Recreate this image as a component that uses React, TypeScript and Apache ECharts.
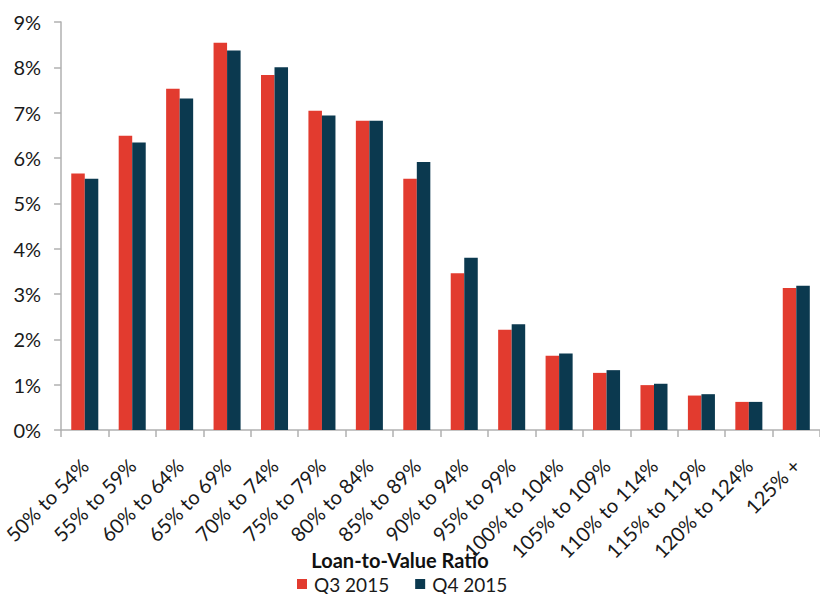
import React, { useEffect, useRef } from "react";
import * as echarts from "echarts";

const categories = [
  "50% to 54%", "55% to 59%", "60% to 64%", "65% to 69%", "70% to 74%",
  "75% to 79%", "80% to 84%", "85% to 89%", "90% to 94%", "95% to 99%",
  "100% to 104%", "105% to 109%", "110% to 114%", "115% to 119%",
  "120% to 124%", "125% +",
];
const q3_2015 = [5.66, 6.49, 7.53, 8.54, 7.83, 7.04, 6.82, 5.54, 3.46, 2.21, 1.64, 1.26, 0.99, 0.76, 0.62, 3.13];
const q4_2015 = [5.54, 6.34, 7.31, 8.37, 8.0, 6.94, 6.82, 5.91, 3.8, 2.33, 1.69, 1.32, 1.02, 0.79, 0.62, 3.18];
const yTicks = [0, 1, 2, 3, 4, 5, 6, 7, 8, 9];

const RED = "#E23B2F";
const TEAL = "#0B394F";
const FONT = "Lato, 'Open Sans', sans-serif";

export default function App() {
  const ref = useRef<HTMLDivElement>(null);
  useEffect(() => {
    if (!ref.current) return;
    const chart = echarts.init(ref.current, undefined, { renderer: "svg" });
    chart.setOption({
      animation: false,
      backgroundColor: "#ffffff",
      textStyle: { fontFamily: FONT },
      grid: { left: 60, top: 22, bottom: 164, width: 765 },
      legend: {
        left: 297,
        top: 574,
        padding: [0, 0],
        itemWidth: 10,
        itemHeight: 10,
        itemGap: 26,
        icon: "rect",
        textStyle: { fontSize: 19, lineHeight: 20, color: "#1a1a1a", fontFamily: FONT, padding: [0, 0, 0, 2] },
        data: ["Q3 2015", "Q4 2015"],
      },
      graphic: [
        {
          type: "text",
          x: 400,
          y: 560,
          style: {
            text: "Loan-to-Value Ratio",
            fontSize: 20,
            lineHeight: 20,
            fontWeight: "bold",
            fontFamily: FONT,
            fill: "#111",
            align: "center",
            verticalAlign: "middle",
          },
        },
      ],
      xAxis: {
        type: "category",
        data: categories,
        axisLine: { lineStyle: { color: "#b0b0b0", width: 1.5 } },
        axisTick: { show: true, length: 7, lineStyle: { color: "#b0b0b0", width: 1.5 } },
        axisLabel: { rotate: 45, fontSize: 20, color: "#1a1a1a", margin: 32, interval: 0, fontFamily: FONT },
      },
      yAxis: {
        type: "value",
        min: 0,
        max: 9,
        interval: 1,
        splitLine: { show: false },
        axisLine: { show: true, lineStyle: { color: "#b0b0b0", width: 1.5 } },
        axisTick: { show: true, length: 7, lineStyle: { color: "#b0b0b0", width: 1.5 } },
        axisLabel: {
          fontSize: 20,
          color: "#1a1a1a",
          margin: 20,
          fontFamily: FONT,
          formatter: (v: number) => (yTicks.includes(v) ? `${v}%` : ""),
        },
      },
      series: [
        { name: "Q3 2015", type: "bar", data: q3_2015, itemStyle: { color: RED }, barGap: "0%", barCategoryGap: "43%" },
        { name: "Q4 2015", type: "bar", data: q4_2015, itemStyle: { color: TEAL }, barGap: "0%", barCategoryGap: "43%" },
      ],
    });
    return () => chart.dispose();
  }, []);
  return <div ref={ref} style={{ position: "fixed", left: 0, top: 0, width: 820, height: 594 }} />;
}
